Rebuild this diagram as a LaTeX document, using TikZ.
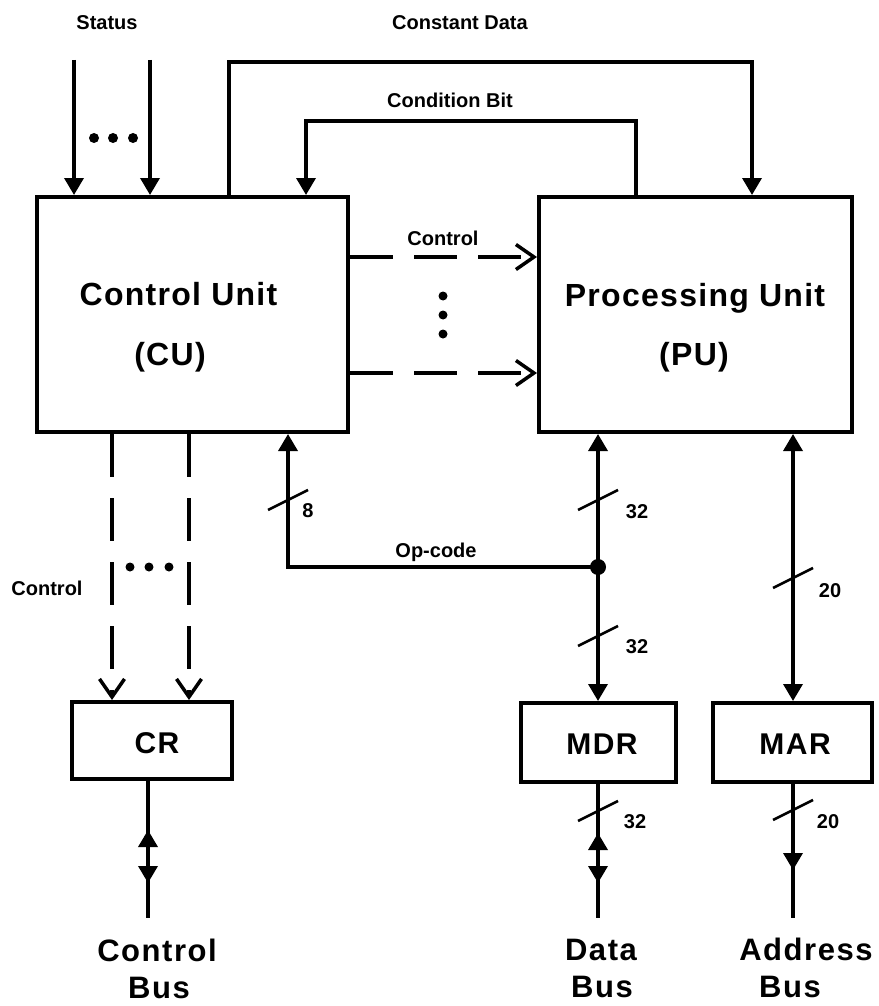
\documentclass[tikz,border=0pt]{standalone}
\usepackage{fontspec}
\setmainfont{Liberation Sans}
\newfontfamily\titlefont[LetterSpace=4]{Liberation Sans}
\newfontfamily\regfont[LetterSpace=5]{Liberation Sans}
\newfontfamily\busfont[LetterSpace=5]{Liberation Sans}
\usetikzlibrary{arrows.meta}

\tikzset{
  unit/.style={draw, line width=4pt, inner sep=0pt},
  reg/.style={draw, line width=4pt, inner sep=0pt},
  wire/.style={line width=3.5pt},
  arr/.style={wire, -{Triangle[length=17pt,width=19pt]}},
  darr/.style={wire, {Triangle[length=17pt,width=19pt]}-{Triangle[length=17pt,width=19pt]}},
  ctl/.style={line width=4pt, dash pattern=on 43pt off 21pt,
    -{Straight Barb[length=18pt,width=25pt,line width=3.5pt]}},
  lbl/.style={font=\bfseries\fontsize{20}{24}\selectfont, inner sep=0pt, anchor=base},
  title/.style={font=\titlefont\bfseries\fontsize{32}{38}\selectfont, inner sep=0pt, anchor=base},
  regtext/.style={font=\regfont\bfseries\fontsize{30}{36}\selectfont, inner sep=0pt, anchor=base},
  bustext/.style={font=\busfont\bfseries\fontsize{31}{37}\selectfont, inner sep=0pt, anchor=base},
  buswidth/.pic={\draw[line width=2.5pt] (-20,10) -- (20,-10);}
}

\begin{document}
\begin{tikzpicture}[x=1pt,y=-1pt]
\useasboundingbox (0,0) rectangle (878,1006);

% functional units and registers
\node[unit, minimum width=311pt, minimum height=235pt] (cu) at (192.5,314.5) {};
\node[unit, minimum width=313pt, minimum height=235pt] (pu) at (695.5,314.5) {};
\node[reg, minimum width=160pt, minimum height=77pt] (cr) at (152,740.5) {};
\node[reg, minimum width=155pt, minimum height=79pt] (mdr) at (598.5,742.5) {};
\node[reg, minimum width=159pt, minimum height=79pt] (mar) at (792.5,742.5) {};

\node[title] (cuname) at (178.5,305) {Control Unit};
\node[title] (cuabbr) at (170,365) {(CU)};
\node[title] (puname) at (695,306) {Processing Unit};
\node[title] (puabbr) at (694,365) {(PU)};
\node[regtext] (crname) at (157,753) {CR};
\node[regtext] (mdrname) at (602,754) {MDR};
\node[regtext] (marname) at (795,754) {MAR};

% status inputs
\coordinate (st1) at (74,60);
\coordinate (st2) at (150,60);
\draw[arr] (st1) -- (st1 |- cu.north);
\draw[arr] (st2) -- (st2 |- cu.north);
\foreach \x in {94,113,133} \fill (\x,138) circle (5pt);
\node[lbl] (status) at (107,30) {Status};

% constant data from CU to PU
\coordinate (cdl) at (229,62);
\coordinate (cdr) at (752,62);
\draw[arr] (cu.north -| cdl) -- (cdl) -- (cdr) -- (cdr |- pu.north);
\node[lbl] (constdata) at (460,30) {Constant Data};

% condition bit from PU to CU
\coordinate (cbr) at (636,121);
\coordinate (cbl) at (306,121);
\draw[arr] (pu.north -| cbr) -- (cbr) -- (cbl) -- (cbl |- cu.north);
\node[lbl] (condbit) at (450,108) {Condition Bit};

% control lines CU -> PU
\coordinate (ca) at (443,257);
\coordinate (cb) at (443,373);
\draw[ctl] (cu.east |- ca) -- (pu.west |- ca);
\draw[ctl] (cu.east |- cb) -- (pu.west |- cb);
\foreach \y in {296,315,334} \fill (443,\y) circle (4.5pt);
\node[lbl] (ctlpu) at (443,245) {Control};

% control lines CU -> CR
\coordinate (da) at (112,567);
\coordinate (db) at (189,567);
\draw[ctl] (cu.south -| da) -- (cr.north -| da);
\draw[ctl] (cu.south -| db) -- (cr.north -| db);
\foreach \x in {130,149,169} \fill (\x,567) circle (4.5pt);
\node[lbl] (ctlcr) at (47,595) {Control};

% op-code path
\coordinate (jn) at (598,567);
\coordinate (oc) at (288,567);
\draw[arr] (jn) -- (oc) -- (oc |- cu.south);
\fill (jn) circle (8pt);
\node[lbl] (opcode) at (436,557) {Op-code};
\pic at (288,500) {buswidth};
\node[lbl] (w8) at (308,517) {8};

% PU <-> MDR
\draw[darr] (jn |- pu.south) -- (jn |- mdr.north);
\pic at (598,500) {buswidth};
\node[lbl] (w32a) at (637,518) {32};
\pic at (598,636) {buswidth};
\node[lbl] (w32b) at (637,653) {32};

% PU <-> MAR
\coordinate (ma) at (793,578);
\draw[darr] (ma |- pu.south) -- (ma |- mar.north);
\pic at (ma) {buswidth};
\node[lbl] (w20a) at (830,597) {20};

% external buses
\coordinate (cbus) at (148,918);
\coordinate (cup) at (148,830);
\coordinate (cdn) at (148,883);
\draw[wire] (cr.south -| cbus) -- (cbus);
\draw[arr] (cdn) -- (cup);
\draw[arr] (cup) -- (cdn);

\coordinate (dbus) at (598,918);
\coordinate (dup) at (598,833);
\coordinate (ddn) at (598,883);
\draw[wire] (mdr.south -| dbus) -- (dbus);
\draw[arr] (ddn) -- (dup);
\draw[arr] (dup) -- (ddn);
\pic at (598,811) {buswidth};
\node[lbl] (w32c) at (635,828) {32};

\coordinate (abus) at (793,918);
\coordinate (aup) at (793,850);
\coordinate (adn) at (793,870);
\draw[wire] (mar.south -| abus) -- (abus);
\draw[arr] (aup) -- (adn);
\pic at (793,810) {buswidth};
\node[lbl] (w20b) at (828,828) {20};

\node[bustext] (cb1) at (157,961) {Control};
\node[bustext] (cb2) at (159,998) {Bus};
\node[bustext] (db1) at (601,960) {Data};
\node[bustext] (db2) at (602,997) {Bus};
\node[bustext] (ab1) at (806,960) {Address};
\node[bustext] (ab2) at (790,997) {Bus};
\end{tikzpicture}
\end{document}
